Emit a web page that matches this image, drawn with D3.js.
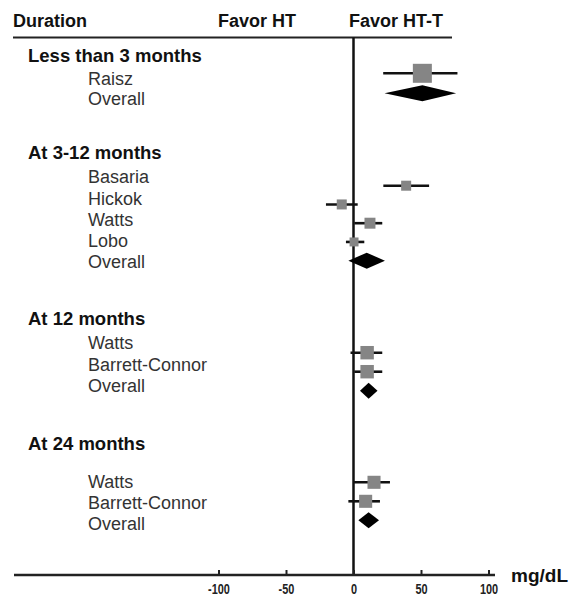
<!DOCTYPE html>
<html>
<head>
<meta charset="utf-8">
<script src="https://cdn.jsdelivr.net/npm/d3@7"></script>
<style>
  html, body { margin: 0; padding: 0; background: #fff; }
  svg { display: block; }
  text { font-family: "Liberation Sans", Arial, Helvetica, sans-serif; }
</style>
</head>
<body>
<svg id="chart" width="582" height="598"></svg>
<script>
// ---------------- DATA ----------------
const groupLabels = ["Less than 3 months", "At 3-12 months", "At 12 months", "At 24 months"];

const studyGroup = [0, 1, 1, 1, 1, 2, 2, 3, 3];
const studyNames = ["Raisz", "Basaria", "Hickok", "Watts", "Lobo", "Watts", "Barrett-Connor", "Watts", "Barrett-Connor"];
const studyEstimate = [51, 39, -8.7, 12.2, 0.4, 10.1, 10.1, 15.2, 9];
const studyLower = [22, 22.1, -20.4, 0.6, -5.6, -2.2, 0.6, 0.4, -3.8];
const studyUpper = [77, 56, 3.1, 21.3, 8, 21.3, 21.3, 27, 19.6];
const studyWeight = [36, 10, 10, 12, 8, 18, 18, 17, 17];

const overallEstimate = [51, 9.8, 11.2, 11.2];
const overallLower = [23, -3.8, 4.8, 3.6];
const overallUpper = [76, 23.3, 17.8, 18.9];

const tickValues = [-100, -50, 0, 50, 100];
const headerLabels = ["Duration", "Favor HT", "Favor HT-T"];
const unitLabel = "mg/dL";
const overallLabel = "Overall";

// ---------------- LAYOUT ----------------
const headingY = [62, 159.3, 325, 450];
const firstRowY = [85, 183.3, 349.3, 487.5];
const rowStep = [20, 21.2, 21.3, 21];
const markStartY = [73.3, 185.7, 352.7, 482.3];
const markStep = [20, 18.75, 19, 19];
const axisY = 575;

const svg = d3.select("#chart");
const x = d3.scaleLinear().domain([-100, 100]).range([218.5, 488.5]);
const size = d3.scaleSqrt().domain([0, 36]).range([0, 19]);

// header
svg.append("text").attr("x", 13).attr("y", 26.5).attr("font-size", 18).attr("font-weight", "bold").attr("fill", "#111").text(headerLabels[0]);
svg.append("text").attr("x", 218).attr("y", 26.5).attr("font-size", 18).attr("font-weight", "bold").attr("fill", "#111").text(headerLabels[1]);
svg.append("text").attr("x", 349).attr("y", 26.5).attr("font-size", 18).attr("font-weight", "bold").attr("fill", "#111").text(headerLabels[2]);
svg.append("line").attr("x1", 13).attr("x2", 452).attr("y1", 37.5).attr("y2", 37.5).attr("stroke", "#222").attr("stroke-width", 2.2);

// zero line
svg.append("line").attr("x1", x(0)).attr("x2", x(0)).attr("y1", 37.5).attr("y2", axisY)
  .attr("stroke", "#111").attr("stroke-width", 2.5);

// group headings and rows
groupLabels.forEach((g, gi) => {
  svg.append("text").attr("x", 28).attr("y", headingY[gi]).attr("font-size", 18.5)
    .attr("font-weight", "bold").attr("fill", "#111").text(g);

  const idx = studyGroup.map((d, i) => d === gi ? i : -1).filter(i => i >= 0);
  idx.forEach((si, k) => {
    const ly = firstRowY[gi] + k * rowStep[gi];
    svg.append("text").attr("x", 88).attr("y", ly).attr("font-size", 18)
      .attr("fill", "#333").text(studyNames[si]);
    const my = markStartY[gi] + k * markStep[gi];
    svg.append("line").attr("x1", x(studyLower[si])).attr("x2", x(studyUpper[si]))
      .attr("y1", my).attr("y2", my).attr("stroke", "#111").attr("stroke-width", 2.6);
    const s = size(studyWeight[si]);
    svg.append("rect").attr("x", x(studyEstimate[si]) - s / 2).attr("y", my - s / 2)
      .attr("width", s).attr("height", s).attr("fill", "#858585");
  });
  const k = idx.length;
  const ly = firstRowY[gi] + k * rowStep[gi];
  svg.append("text").attr("x", 88).attr("y", ly).attr("font-size", 18)
    .attr("fill", "#333").text(overallLabel);
  const my = markStartY[gi] + k * markStep[gi];
  const h = 8;
  const pts = [[x(overallLower[gi]), my], [x(overallEstimate[gi]), my - h],
               [x(overallUpper[gi]), my], [x(overallEstimate[gi]), my + h]];
  svg.append("path").attr("d", d3.line()(pts) + "Z").attr("fill", "#000");
});

// axis
svg.append("line").attr("x1", 14).attr("x2", 495).attr("y1", axisY).attr("y2", axisY)
  .attr("stroke", "#222").attr("stroke-width", 2.4);
const axis = d3.axisBottom(x).tickValues(tickValues).tickFormat(d => String(d))
  .tickSizeInner(-5).tickSizeOuter(0);
const ag = svg.append("g").attr("transform", `translate(0,${axisY})`).call(axis);
ag.select(".domain").remove();
ag.selectAll(".tick line").attr("stroke", "#222").attr("stroke-width", 2);
ag.selectAll(".tick text")
  .attr("font-family", "'Liberation Sans', Arial, sans-serif")
  .attr("font-size", 14).attr("font-weight", "bold").attr("fill", "#222")
  .attr("dy", null).attr("y", 0)
  .attr("transform", "translate(0,18.5) scale(0.78,1)");

svg.append("text").attr("x", 511).attr("y", 582).attr("font-size", 19).attr("font-weight", "bold")
  .attr("fill", "#111").text(unitLabel);
</script>
</body>
</html>
